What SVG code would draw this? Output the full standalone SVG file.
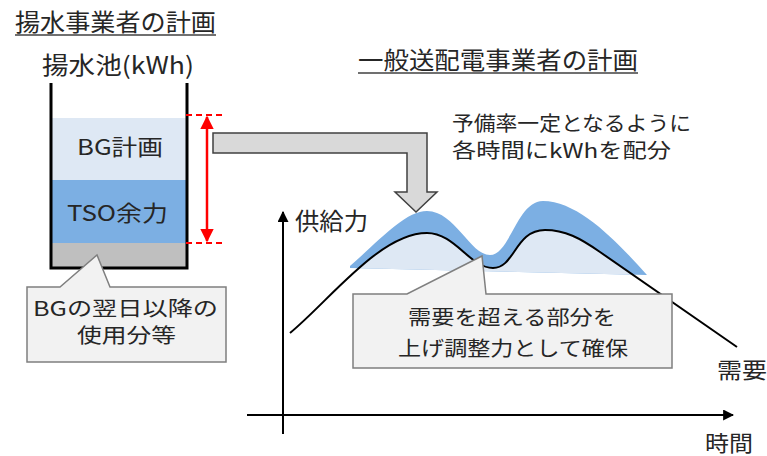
<svg xmlns="http://www.w3.org/2000/svg" width="767" height="456" viewBox="0 0 767 456">
<style>
text{font-family:"Noto Sans CJK JP","Noto Sans",sans-serif;fill:#262626;}
.t21{font-size:20px;}
.t22{font-size:22px;}
.t24{font-size:24px;}
.ul{stroke:#404040;stroke-width:1.5;}
.wall{fill:none;stroke:#000;stroke-width:3;}
.red{stroke:#ff0000;stroke-width:2.5;fill:none;}
.dash{stroke:#ff0000;stroke-width:2;stroke-dasharray:6 4;}
.call{fill:#f2f2f2;stroke:#7f7f7f;stroke-width:1.5;}
.axis{stroke:#000;stroke-width:2;fill:none;}
</style>
<defs>
<marker id="ah" viewBox="0 0 10 10" refX="9" refY="5" markerWidth="5.5" markerHeight="5.5" orient="auto-start-reverse"><path d="M0,0 L10,5 L0,10 Z" fill="#000"/></marker>
<marker id="rh" viewBox="0 0 10 10" refX="9" refY="5" markerWidth="5.5" markerHeight="5.5" orient="auto-start-reverse"><path d="M0,0 L10,5 L0,10 Z" fill="#ff0000"/></marker>
<clipPath id="supclip"><path d="M350 266 C380 240 405 211 427 211 C455 211 470 255 490 255 C510 255 517 201 543 201 C580 201 620 245 647 275 L350 268 Z"/></clipPath>
</defs>

<g id="title-left">
<text class="t24" x="15" y="31" textLength="201" lengthAdjust="spacingAndGlyphs">揚水事業者の計画</text>
<line class="ul" x1="15" y1="35" x2="216" y2="35"/>
</g>

<g id="tank">
<text class="t24" x="42" y="74" textLength="152" lengthAdjust="spacingAndGlyphs">揚水池(kWh)</text>
<rect x="51" y="118" width="136" height="62" fill="#dee8f4"/>
<rect x="51" y="180" width="136" height="63" fill="#7cafe3"/>
<rect x="51" y="243" width="136" height="25" fill="#bfbfbf"/>
<path class="wall" d="M51 83 V268 H187 V83"/>
<text class="t22" x="77" y="155" textLength="86" lengthAdjust="spacingAndGlyphs">BG計画</text>
<text class="t22" x="67" y="221" textLength="101" lengthAdjust="spacingAndGlyphs">TSO余力</text>
</g>

<g id="red-range">
<line class="dash" x1="186" y1="115" x2="223" y2="115"/>
<line class="dash" x1="186" y1="243" x2="223" y2="243"/>
<line class="red" x1="207" y1="117" x2="207" y2="241" marker-start="url(#rh)" marker-end="url(#rh)"/>
</g>

<g id="callout-bg">
<path class="call" d="M27 287 H60 L97 255 L110 287 H226 V362 H27 Z"/>
<text class="t21" x="33" y="316" textLength="185" lengthAdjust="spacingAndGlyphs">BGの翌日以降の</text>
<text class="t21" x="77" y="343" textLength="99" lengthAdjust="spacingAndGlyphs">使用分等</text>
</g>

<g id="title-right">
<text class="t24" x="358" y="69" textLength="280" lengthAdjust="spacingAndGlyphs">一般送配電事業者の計画</text>
<line class="ul" x1="358" y1="73" x2="638" y2="73"/>
</g>

<g id="note">
<text class="t21" x="452" y="131" textLength="239" lengthAdjust="spacingAndGlyphs">予備率一定となるように</text>
<text class="t21" x="452" y="158" textLength="219" lengthAdjust="spacingAndGlyphs">各時間にkWhを配分</text>
</g>

<g id="chart">
<path d="M350 266 C380 240 405 211 427 211 C455 211 470 255 490 255 C510 255 517 201 543 201 C580 201 620 245 647 275 L350 268 Z" fill="#7cafe3"/>
<path clip-path="url(#supclip)" d="M290 333 C330 300 380 233 427 233 C455 233 470 268 493 268 C515 268 515 230 545 230 C565 230 580 238 600 252 L737 347 L737 420 L290 420 Z" fill="#dee8f4"/>
<path d="M290 333 C330 300 380 233 427 233 C455 233 470 268 493 268 C515 268 515 230 545 230 C565 230 580 238 600 252 L737 347" fill="none" stroke="#000" stroke-width="2"/>
<text class="t24" x="295" y="230" textLength="73" lengthAdjust="spacingAndGlyphs">供給力</text>
<text class="t22" x="717" y="378" textLength="50" lengthAdjust="spacingAndGlyphs">需要</text>
<text class="t22" x="705" y="451" textLength="48" lengthAdjust="spacingAndGlyphs">時間</text>
</g>

<g id="callout-tso">
<path class="call" d="M353 294 H407 L482 256 L486 294 H672 V368 H353 Z"/>
<text class="t21" x="408" y="325" textLength="208" lengthAdjust="spacingAndGlyphs">需要を超える部分を</text>
<text class="t21" x="398" y="356" textLength="230" lengthAdjust="spacingAndGlyphs">上げ調整力として確保</text>
</g>

<g id="connectors">
<path d="M213 133 H427 V192 H437 L416 212 L395 192 H407 V153 H213 Z" fill="#d9d9d9" stroke="#404040" stroke-width="1.5" stroke-linejoin="miter"/>
<line class="axis" x1="283" y1="434" x2="283" y2="212" marker-end="url(#ah)"/>
<line class="axis" x1="247" y1="415" x2="733" y2="415" marker-end="url(#ah)"/>
</g>
</svg>
